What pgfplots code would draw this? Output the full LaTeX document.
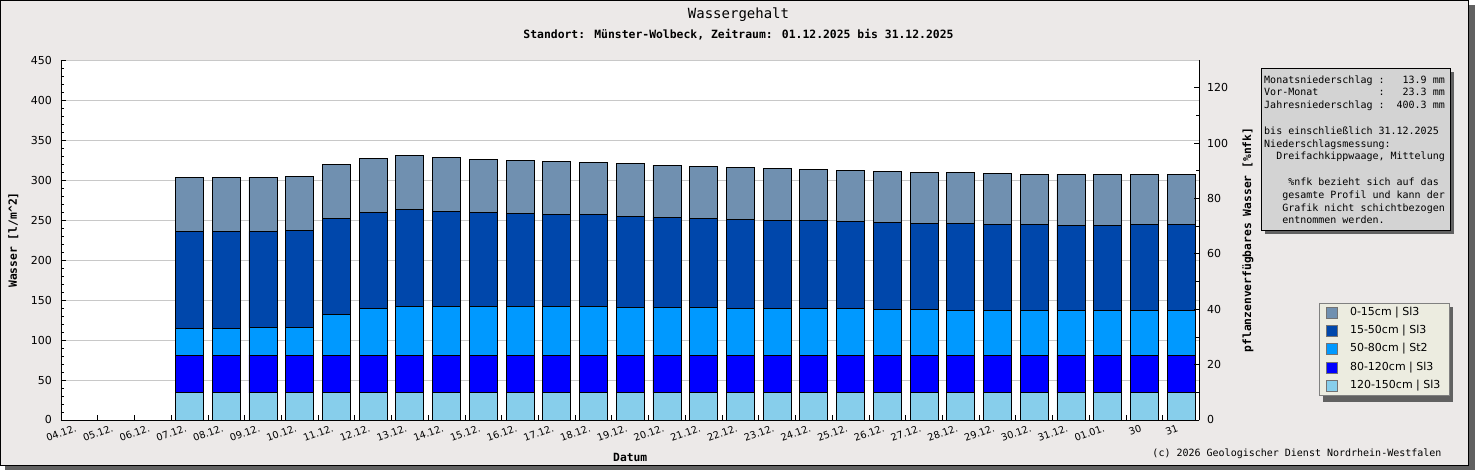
\documentclass[border=0pt]{standalone}
\usepackage{fontspec}
\setmainfont{DejaVu Sans}
\newfontfamily\mono{DejaVu Sans Mono}
\usepackage{pgfplots}
\pgfplotsset{compat=1.18}
\usepackage{pgfplotstable}
\definecolor{bg}{RGB}{236,233,232}
\definecolor{shadowgray}{RGB}{97,97,97}
\definecolor{boxgray}{RGB}{211,211,211}
\definecolor{legbg}{RGB}{236,236,224}
\definecolor{gridgray}{RGB}{200,200,200}
\definecolor{cA}{RGB}{112,144,176}
\definecolor{cB}{RGB}{0,71,171}
\definecolor{cC}{RGB}{0,153,255}
\definecolor{cD}{RGB}{0,0,255}
\definecolor{cE}{RGB}{135,206,235}
\pgfplotsset{sqlegend/.style={legend image code/.code={\draw[##1,draw=black!55,line width=0.6pt] (0pt,-5.5pt) rectangle (11pt,5.5pt);}}}
\pgfplotstableread{
x a b c d e
3.5 34 47 33.0 121.8 67.5
4.5 34 47 33.0 121.8 67.5
5.5 34 47 34.5 120.3 67.5
6.5 34 47 34.5 121.5 67.6
7.5 34 47 50.7 120.3 67.6
8.5 34 47 58.0 120.6 67.4
9.5 34 47 60.7 121.6 67.5
10.5 34 47 60.7 119.1 67.5
11.5 34 47 60.7 117.9 66.2
12.5 34 47 61.1 116.2 66.3
13.5 34 47 61.1 115.0 66.2
14.5 34 47 61.1 115.0 65.0
15.5 34 47 59.8 113.8 66.2
16.5 34 47 59.8 112.5 65.0
17.5 34 47 59.8 111.3 65.0
18.5 34 47 58.6 111.2 65.0
19.5 34 47 58.6 110.0 65.0
20.5 34 47 58.6 110.0 63.7
21.5 34 47 58.6 108.7 63.8
22.5 34 47 57.3 108.8 63.7
23.5 34 47 57.3 107.5 63.8
24.5 34 47 56.1 108.7 63.8
25.5 34 47 56.1 107.5 63.7
26.5 34 47 56.1 107.5 62.5
27.5 34 47 56.1 106.2 63.8
28.5 34 47 56.1 106.2 63.8
29.5 34 47 56.1 107.5 62.5
30.5 34 47 56.1 107.5 62.5
}\datatable
\begin{document}
\begin{tikzpicture}[x=1pt,y=1pt]
\fill[shadowgray] (5,0) rectangle (1475,465);
\filldraw[fill=bg,draw=black,line width=1pt] (0.5,4.5) rectangle (1468.5,469.5);
\node at (738.5,455.5) {\mono\fontsize{14}{16}\selectfont Wassergehalt};
\node at (738.5,435.5) {\mono\bfseries\fontsize{11.4}{13}\selectfont Standort: Münster-Wolbeck, Zeitraum: 01.12.2025 bis 31.12.2025};
\node[anchor=east] at (1445,16) {\mono\fontsize{10}{12}\selectfont (c) 2026 Geologischer Dienst Nordrhein-Westfalen};
% info box
\fill[shadowgray] (1265.2,235.8) rectangle (1454.2,398.2);
\filldraw[fill=boxgray,draw=black,line width=0.8pt] (1261.7,239.3) rectangle (1450.7,401.7);
\node[anchor=north west,inner sep=0pt,align=left,font=\mono\fontsize{10}{12.8}\selectfont] at (1264,394.8)
{Monatsniederschlag :~~~13.9 mm\\
Vor-Monat~~~~~~~~~~:~~~23.3 mm\\
Jahresniederschlag :~~400.3 mm\\[12.8pt]
bis einschließlich 31.12.2025\\
Niederschlagsmessung:\\
~~Dreifachkippwaage, Mittelung\\[12.8pt]
~~~~\%nfk bezieht sich auf das\\
~~~gesamte Profil und kann der\\
~~~Grafik nicht schichtbezogen\\
~~~entnommen werden.};
% legend shadow
\fill[shadowgray] (1323,68) rectangle (1453,163.3);
\begin{axis}[
  at={(61pt,50pt)}, anchor=south west, scale only axis,
  width=1138.5pt, height=360pt,
  xmin=0, xmax=31, ymin=0, ymax=450,
  axis x line*=bottom, axis y line*=left,
  x axis line style={-}, y axis line style={-},
  axis line style={line width=0.8pt},
  xtick pos=bottom, ytick pos=left,
  tick align=inside, major tick length=5pt, minor tick length=3pt,
  tick style={black,line width=0.8pt},
  axis background/.style={fill=white},
  ymajorgrids, major grid style={gridgray,line width=0.8pt},
  ytick={0,50,...,450}, minor y tick num=4,
  xtick={0,...,30},
  xticklabels={04.12.,05.12.,06.12.,07.12.,08.12.,09.12.,10.12.,11.12.,12.12.,13.12.,14.12.,15.12.,16.12.,17.12.,18.12.,19.12.,20.12.,21.12.,22.12.,23.12.,24.12.,25.12.,26.12.,27.12.,28.12.,29.12.,30.12.,31.12.,01.01.,30,31},
  xticklabel style={rotate=20,anchor=north east,inner sep=0pt,xshift=11.5pt,yshift=-8.5pt,font=\fontsize{9.8}{11}\selectfont},
  yticklabel style={anchor=east,inner sep=0pt,xshift=-9pt,font=\fontsize{11}{13}\selectfont},
  /pgf/number format/assume math mode=true,
  ybar stacked, bar width=0.762,
  xlabel={Datum}, ylabel={Wasser [l/m\textasciicircum 2]},
  every axis x label/.style={at={(axis description cs:0.5,-0.1028)},anchor=center,font=\mono\bfseries\fontsize{11.3}{13}\selectfont},
  every axis y label/.style={at={(axis description cs:-0.0418,0.5)},rotate=90,anchor=center,font=\mono\bfseries\fontsize{11.3}{13}\selectfont},
  reverse legend, legend cell align=left,
  legend style={at={(axis description cs:1.105,0.326)},anchor=north west,
    fill=legbg,draw=black!50,line width=0.8pt,font=\fontsize{11}{13}\selectfont,
    inner xsep=7pt,inner ysep=3pt,row sep=4.7pt,
    nodes={inner sep=1.5pt,text height=8pt,text depth=2.5pt},
    /tikz/every odd column/.append style={column sep=10.5pt}},
]
\addplot[fill=cE,draw=black,line width=0.8pt,sqlegend] table[x=x,y=a]{\datatable};
\addlegendentry{120-150cm | Sl3}
\addplot[fill=cD,draw=black,line width=0.8pt,sqlegend] table[x=x,y=b]{\datatable};
\addlegendentry{80-120cm | Sl3}
\addplot[fill=cC,draw=black,line width=0.8pt,sqlegend] table[x=x,y=c]{\datatable};
\addlegendentry{50-80cm | St2}
\addplot[fill=cB,draw=black,line width=0.8pt,sqlegend] table[x=x,y=d]{\datatable};
\addlegendentry{15-50cm | Sl3}
\addplot[fill=cA,draw=black,line width=0.8pt,sqlegend] table[x=x,y=e]{\datatable};
\addlegendentry{0-15cm | Sl3}
\end{axis}
\begin{axis}[
  at={(61pt,50pt)}, anchor=south west, scale only axis,
  width=1138.5pt, height=360pt,
  xmin=0, xmax=31, ymin=0, ymax=130,
  axis x line=none, axis y line*=right, ytick pos=right,
  y axis line style={-,line width=0.8pt},
  tick align=inside, major tick length=5pt, minor tick length=3.5pt,
  tick style={black,line width=0.8pt},
  ytick={0,20,...,120}, minor y tick num=1,
  yticklabel style={anchor=west,inner sep=0pt,xshift=7.5pt,font=\fontsize{11}{13}\selectfont},
  /pgf/number format/assume math mode=true,
  ylabel={pflanzenverfügbares Wasser [\%nfk]},
  every axis y label/.style={at={(axis description cs:1.0426,0.5)},rotate=90,anchor=center,font=\mono\bfseries\fontsize{11.3}{13}\selectfont},
]
\addplot[draw=none] coordinates {(0,0)};
\end{axis}
\pgfresetboundingbox
\path[use as bounding box] (0,0) rectangle (1475,470);
\end{tikzpicture}
\end{document}
